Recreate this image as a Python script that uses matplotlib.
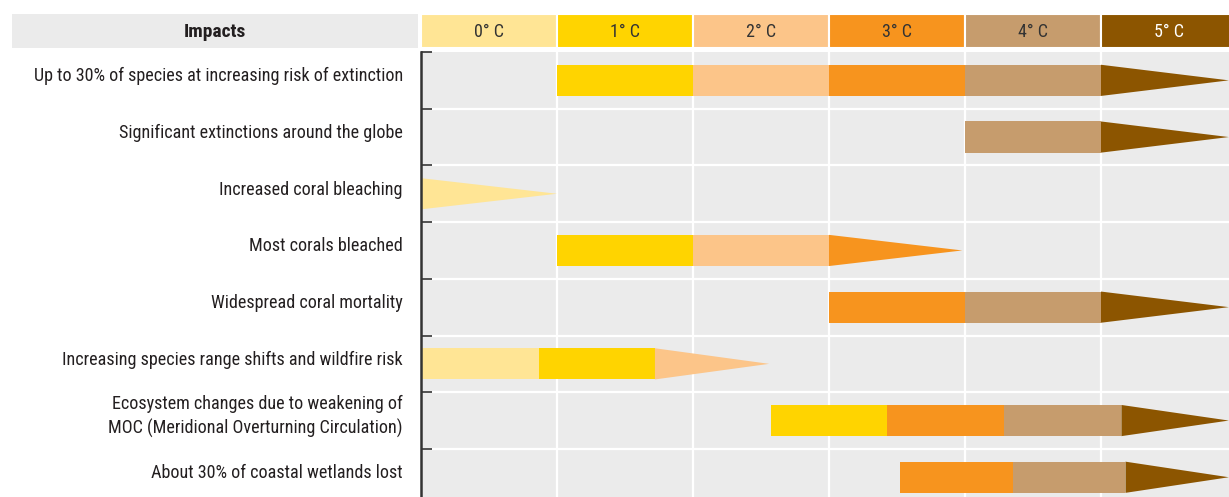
import matplotlib
matplotlib.use("Agg")
import matplotlib.pyplot as plt
from matplotlib.patches import Rectangle

plt.rcParams["font.family"] = ["Roboto Condensed", "DejaVu Sans"]

impacts = [
    "Up to 30% of species at increasing risk of extinction",
    "Significant extinctions around the globe",
    "Increased coral bleaching",
    "Most corals bleached",
    "Widespread coral mortality",
    "Increasing species range shifts and wildfire risk",
    "Ecosystem changes due to weakening of\nMOC (Meridional Overturning Circulation)",
    "About 30% of coastal wetlands lost",
]
temp_labels = ["0° C", "1° C", "2° C", "3° C", "4° C", "5° C"]
temp_colors = ["#FFE595", "#FFD400", "#FCC589", "#F7941E", "#C69C6D", "#8C5500"]

# edges of the solid segments; the last edge is where the arrow head begins
bar_edges = [
    [1, 2, 3, 4, 5],
    [4, 5],
    [0],
    [1, 2, 3],
    [3, 4, 5],
    [0, 0.87, 1.72],
    [2.57, 3.43, 4.29, 5.15],
    [3.52, 4.35, 5.18],
]
# colour level of each segment followed by the arrow head
bar_levels = [
    [1, 2, 3, 4, 5],
    [4, 5],
    [0],
    [1, 2, 3],
    [3, 4, 5],
    [0, 1, 2],
    [1, 3, 4, 5],
    [3, 4, 5],
]
arrow_tips = [5.94, 5.94, 1.0, 3.98, 5.94, 2.56, 5.94, 5.94]

W, H = 1229, 497
fig = plt.figure(figsize=(W / 100, H / 100), dpi=100)

deg_px = 136
x0 = 421
xmax = (W - x0) / deg_px
row_px = 56.7
plot_top = 52
nrows_visible = (H - plot_top) / row_px

ax = fig.add_axes([x0 / W, 0, 1 - x0 / W, (H - plot_top) / H])
ax.set_facecolor("#EBEBEB")
ax.set_xlim(0, xmax)
ax.set_ylim(nrows_visible, 0)

for v in range(1, 6):
    ax.axvline(v, color="white", lw=1.6, zorder=1)
for r in range(1, len(impacts)):
    ax.axhline(r, color="white", lw=1.6, zorder=1)

bar_h = 0.55
for i, (edges, levels, tip) in enumerate(zip(bar_edges, bar_levels, arrow_tips)):
    yc = i + 0.5
    for j in range(len(edges) - 1):
        ax.barh(yc, edges[j + 1] - edges[j], left=edges[j], height=bar_h,
                color=temp_colors[levels[j]], lw=0, zorder=2)
    start = edges[-1]
    ax.fill([start, start, tip], [yc - bar_h / 2, yc + bar_h / 2, yc],
            color=temp_colors[levels[-1]], lw=0, zorder=2)
    ax.text(-18 / deg_px, yc - 0.07, impacts[i], ha="right", va="center",
            fontsize=13.1, color="#231F20", linespacing=1.35)

ax.set_xticks([])
ax.set_yticks(range(len(impacts)))
ax.set_yticklabels([])
ax.tick_params(axis="y", direction="in", length=8, width=1.2, color="#333333")
for s in ["top", "right", "bottom"]:
    ax.spines[s].set_visible(False)
ax.spines["left"].set_color("#333333")
ax.spines["left"].set_linewidth(1.8)

# header row
hx0 = 12
hax = fig.add_axes([hx0 / W, (H - 48) / H, 1 - hx0 / W, 34 / H])
hax.set_xlim((hx0 - x0) / deg_px, xmax)
hax.set_ylim(0, 1)
hax.axis("off")
hax.add_patch(Rectangle(((hx0 - x0) / deg_px, 0), (x0 - 3 - hx0) / deg_px, 1,
                        facecolor="#EBEBEB", lw=0))
hax.text(((hx0 - x0) / deg_px - 3 / deg_px) / 2, 0.47, "Impacts", ha="center",
         va="center", fontsize=14, fontweight="bold", color="#231F20")
for k, (lab, col) in enumerate(zip(temp_labels, temp_colors)):
    hax.add_patch(Rectangle((k, 0), 1, 1, facecolor=col, edgecolor="white", lw=1.5))
    hax.text(k + 0.5, 0.47, lab, ha="center", va="center", fontsize=13,
             color="white" if k == 5 else "#333333")

fig.savefig("out.png", dpi=100)
